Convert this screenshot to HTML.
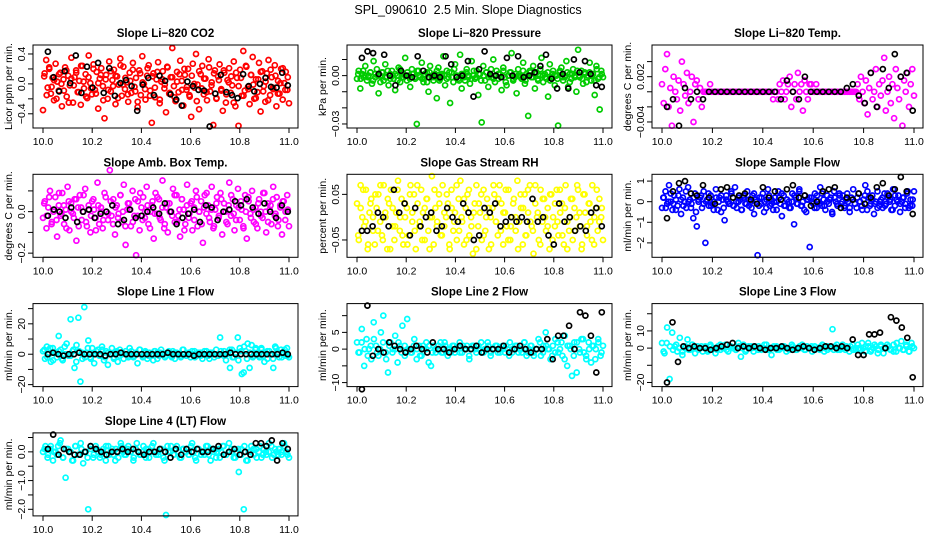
<!DOCTYPE html>
<html><head><meta charset="utf-8"><style>
html,body{margin:0;padding:0;background:#fff;}
svg{display:block;font-family:"Liberation Sans",sans-serif;}
</style></head><body>
<svg id="chart" width="936" height="540" viewBox="0 0 936 540" xmlns="http://www.w3.org/2000/svg">
<rect width="936" height="540" fill="#fff"/>
<text x="468" y="14" text-anchor="middle" font-size="12.5" xml:space="preserve">SPL_090610  2.5 Min. Slope Diagnostics</text>
</svg>
<script>
// Data (values in scaled units; see each panel's unit)
const xTicks = [10.0, 10.2, 10.4, 10.6, 10.8, 11.0];
const co2Vals = [-35,14,32,-5,20,-13,8,-22,27,3,-9,15,-30,6,22,-17,11,-2,35,-25,9,18,-11,4,-28,24,-6,13,-19,38,1,-14,26,-8,16,-33,7,21,-3,-46,12,-20,30,-10,5,19,-27,10,-1,34,-16,23,-7,2,-24,15,-12,28,-4,8,-31,18,-15,37,0,-21,11,25,-9,-52,14,-18,6,29,-26,3,17,-6,-38,22,-13,9,48,-3,-23,16,-11,31,4,-29,12,-8,20,-17,-44,27,-5,40,-1,-34,13,24,-14,7,-22,33,-10,2,-55,18,-19,10,26,-7,-36,15,-25,5,21,-12,-2,30,-30,8,-56,19,-16,44,-9,23,-4,-27,12,36,-20,6,-11,28,-37,17,-3,-24,14,32,-15,9,-7,25,-30,4,-13,20,-21,1,16,-8,-26];
const co2Vals2 = [10,-15,22,-4,5,-20,13,0,-9,18,-25,7,-2,15,-11,24,3,-17,9,-6,20,-13,1,12,-22,6,-8,17,-3,11,-19,25,-1,8,-14,4,19,-10,-24,14,2,-7,21,-16,10,-5,16,-21,6,-1,23,-12,9,-18,3,13,-8,20,-4,-15,11,0,-23,17,-6,7,-11,22,-2,14,-20,5,-9,18,-14,2,10,-25,15,-3,8,-16,24,-7,12,-1,-19,6,16,-10,3,-22,19,-5,11,-13,1,21,-8,9];
const co2Black = [43,9,-10,17,1,38,-12,23,-5,28,-12,21,-16,1,5,-3,-36,-1,8,-15,11,4,-14,-21,-29,3,-3,-8,-9,-57,-13,12,-11,-15,-19,13,-3,-10,0,8,-4,-5,15,-2];
const presVals = [-2,3,-8,1,-1,6,-3,0,2,-5,9,-1,4,-11,0,2,-3,7,-1,-6,1,3,-2,-9,0,5,-4,2,-1,11,-3,0,-7,4,1,-2,-30,3,-1,8,-4,0,2,-10,6,-1,-3,1,-14,5,-2,0,12,-6,3,-1,-17,2,-4,7,0,-2,13,-8,1,-3,4,-1,-5,9,0,-2,3,-12,1,-29,6,-3,2,-7,0,-1,10,-4,3,-2,1,-9,5,-1,-6,0,2,14,-3,-1,-11,4,0,-2,8,-5,1,-25,3,-1,6,-8,2,-3,0,11,-4,1,-2,-13,7,-1,3,-6,0,-31,2,5,-3,-1,9,-7,1,-2,4,0,-10,16,-1,3,-5,2,-4,0,8,-3,1,-12,6,-2,-21,3,-1];
const presVals2 = [1,-2,3,0,-1,2,-3,1,0,-4,2,-1,3,-2,0,1,-3,4,-1,0,2,-2,1,-1,3,0,-2,1,-4,2,0,-1,3,-3,1,0,-2,2,-1,4,0,-3,1,-1,2,0,-2,3,-1,1,-3,0,2,-1,4,-2,0,1,-1,3,-4,0,2,-2,1,0,-1,3,-3,0,2,-1,1,-2,4,0,-1,2,-3,1,0,-2,3,-1,0,2,-4,1,-1,3,0,-2,1,-1,2,0,-3,4,-1,1];
const presBlack = [11,15,14,1,13,0,-6,3,0,-1,12,3,-1,0,-1,12,7,-1,0,9,-13,4,15,1,0,-1,11,0,12,-1,0,2,6,13,-2,-8,1,-8,10,2,9,1,-6,-7];
const tempVals = [2,-3,6,10,-4,1,-9,4,0,-2,3,-5,8,2,-1,5,-3,0,4,-8,2,3,-2,1,-4,0,0,0,0,2,0,0,0,0,0,0,0,0,0,0,0,0,0,0,0,0,0,0,0,0,0,0,0,0,0,0,0,0,0,0,0,0,0,0,0,0,0,-2,0,0,-2,2,0,3,-2,0,2,4,-4,0,2,-2,5,0,2,-5,3,0,-2,2,2,0,0,2,0,0,0,0,0,0,0,0,0,0,0,0,0,0,0,0,0,0,0,0,0,0,0,0,2,-2,4,0,-3,3,-6,1,5,-2,0,6,-4,2,-1,3,9,-5,0,4,-3,2,-7,6,1,-2,4,-9,3,0,5,-4,2,6,-1];
const tempVals2 = [];
const tempBlack = [-4,-2,-9,1,-2,0,-2,0,0,0,0,0,0,0,0,0,0,0,0,-2,3,0,-2,4,0,0,0,0,0,0,1,2,-1,-3,5,-4,6,1,10,4,5,-5];
const ambVals = [-3,5,-8,2,10,-5,0,7,-12,3,-2,9,-6,1,12,-9,4,-1,6,-14,2,8,-4,0,11,-7,3,-10,5,1,-3,14,-6,2,-8,9,0,-4,20,-2,6,-11,3,-1,8,-5,13,-16,1,4,-7,10,-2,-21,5,-9,2,7,-3,12,-6,0,3,-13,9,-1,6,-4,15,-8,2,-10,4,0,11,-5,8,-2,-12,6,1,-6,13,-3,4,-9,2,10,-7,0,5,-15,8,-1,3,-5,12,-8,1,7,-3,9,-11,4,0,-6,14,-2,6,-9,3,11,-4,1,-7,8,-13,5,-1,10,-5,2,-8,6,0,-3,9,-10,4,1,-6,12,-2,7,-4,3,-11,5,0,8,-7];
const ambVals2 = [4,-2,7,-6,1,-4,9,-1,3,-8,5,0,-3,6,-7,2,8,-5,1,-2,6,-9,3,0,-4,7,-1,5,-6,2,-3,8,0,-7,4,1,-5,6,-2,9,-4,0,3,-8,5,-1,7,-3,2,-6,4,0,-2,8,-5,1,6,-9,3,-1,5,-4,7,0,-6,2,9,-3,1,-7,4,-2,6,0,-5,3,8,-1,-4,2,5,-8,0,7,-3,1,-6,4,-2,9,0,-5,3,6,-1,-7,2,5,-4,1];
const ambBlack = [-2,1,0,-3,2,-5,0,1,-3,-1,0,3,-6,-4,1,-3,-2,0,2,-1,4,0,-6,-3,-1,1,-5,3,2,-4,0,1,5,3,6,2,-1,4,0,-3,3,0];
const rhVals = [3,-5,7,0,-2,6,-7,1,4,-3,-6,2,5,-1,-4,7,0,-7,3,6,-2,-5,1,8,-3,4,-6,0,2,-4,7,-1,5,-7,3,-2,6,1,-5,4,-3,0,9,-6,2,-1,5,-4,7,-2,0,3,-7,6,-3,1,-5,4,8,-1,-6,2,5,-4,0,-8,3,7,-2,1,-5,6,-3,4,-7,0,2,5,-1,-4,7,3,-6,1,-2,6,-5,0,4,-3,8,-1,2,-6,5,-4,1,7,-2,-8,3,0,-5,6,-1,4,-3,2,-7,5,0,-2,6,-4,1,3,-6,7,-1,-3,4,-5,2,0,6,-2,-7,5,1,-4,3,-1,7,-6,2,-3,4,0,-5];
const rhVals2 = [-4,2,6,-1,-6,3,0,5,-3,7,-5,1,4,-7,2,-2,6,0,-4,3,-6,5,1,-3,7,-1,-5,2,4,-7,0,6,-2,3,-4,1,5,-6,2,-1,7,-3,0,4,-5,6,-2,1,-7,3,5,-4,0,2,-6,7,-1,4,-3,1,6,-5,-2,3,0,-7,5,2,-4,6,-1,-3,7,1,-6,4,0,-2,5,-5,3,-1,6,-4,2,-7,0,4,-3,7,1,-6,5,-2,3,-5,0,6,-1,2];
const rhBlack = [-3,-3,-2,1,0,-2,6,1,3,-4,2,-2,0,1,-3,-2,2,0,-1,3,1,-5,-4,2,1,3,-2,-1,0,-1,0,-1,4,-1,0,-4,-6,3,-1,0,-3,-2,-3,1,2,-2];
const flowVals = [-3,2,5,-1,8,0,-4,3,1,-2,6,-6,2,0,-3,7,1,-1,-8,4,-12,0,2,-3,5,-20,1,-2,3,-1,0,6,-4,2,-5,1,-9,3,0,-1,4,-2,7,-3,0,1,-4,2,-1,5,-2,0,3,-6,1,-26,2,-1,4,0,-3,6,-2,1,-4,2,0,5,-1,-7,3,-2,1,0,-3,4,-11,2,-1,6,-2,0,3,-5,1,-22,2,-1,4,-3,0,7,-2,1,-4,3,-1,2,-6,5,0,-2,4,-1,3,-3,1,0,-5,2,6,-1,-3,4,0,-2,1,8,-4,2,-1,3,-6,0,5,-2,1,-3,4,-1,2,0,-4,6,-2,1,3,-5,0,2,-1,4,-3,1,-2,5];
const flowVals2 = [2,-3,0,4,-1,-4,3,1,-2,5,0,-3,2,-5,1,3,-1,0,4,-2,-4,2,0,3,-3,1,-1,5,-2,0,2,-4,3,-1,1,-3,4,0,-2,2,-5,1,3,-1,0,-4,2,4,-2,1,-3,0,3,-1,5,-2,-4,1,2,0,-3,3,-1,4,-2,0,1,-5,2,-1,3,0,-2,4,-3,1,-1,2,0,-4,3,5,-2,1,-1,-3,0,2,-2,4,1,-4,3,0,-1,2,-3,5,-2,1];
const flowBlack = [-8,5,9,10,4,3,8,2,-1,6,7,2,3,4,1,-1,7,2,5,1,6,8,2,3,-2,0,5,6,7,-3,2,1,4,-1,2,7,9,3,6,12,5,-6];
const line1Vals = [2,-3,5,0,-5,4,1,-2,12,3,-4,0,7,-1,23,2,-9,6,24,-18,-3,31,1,9,-2,4,-6,0,3,-1,5,-4,2,-7,0,4,-2,1,-5,3,0,-3,2,-1,4,0,-2,1,-6,3,0,-1,2,-3,1,0,-4,2,1,-1,3,0,-2,1,0,-1,2,-3,1,0,-2,3,0,-1,1,-2,0,2,-1,0,1,-3,2,0,-1,1,0,-2,3,-1,11,0,2,-4,1,-9,3,-2,0,11,4,-13,-12,2,7,-9,6,-1,3,0,-2,4,-1,1,-3,2,0,-9,5,1,-2,3,0,-1,4,-2];
const line1Vals2 = [3,-2,4,-4,1,2,-3,5,0,-1,3,-5,2,1,-2,4,-3,0,2,-1,3,-2,1,0,-3,2,-1,1,0,-2,2,-1,0,3,-2,1,-1,0,2,-3,1,0,-1,2,-2,1,0,-1,3,-1,0,2,-2,1,-1,0,2,-3,1,0,-1,2,-1,0,3,-2,1,-4,2,5,-3,1,-2,4,-1,3,-5,2,0,-3,4,1,-2,3,-1];
const line1Black = [0,1,0,-1,0,0,1,0,0,0,0,-1,0,0,1,0,0,0,0,0,0,0,0,1,0,0,0,0,-1,0,0,0,0,0,0,1,0,0,0,0,0,0,0,0,0,1,0];
const line2Vals = [2,-1,6,-5,3,0,-3,8,1,-2,5,10,-1,-7,2,0,4,-4,1,7,-2,9,0,-1,3,-3,1,-2,0,2,-4,-5,1,-1,0,2,-1,1,-2,0,1,-1,0,2,-1,0,1,-3,0,1,-1,0,2,-1,0,1,-2,0,1,-1,0,1,-1,0,2,-1,0,1,0,-1,2,-2,0,1,-1,0,3,-2,1,5,0,-3,1,-1,2,0,-2,4,-5,1,-8,2,-7,0,3,-1,-3,2,-4,1,0,3,-2,1];
const line2Vals2 = [-1,2,0,-2,1,3,-1,0,2,-3,1,-1,0,2,-1,1,0,-1,1,0,-2,1,0,1,-1,0,1,-1,2,0,-1,1,0,-1,1,0,-2,1,0,1,-1,0,2,-1,0,1,-1,0,1,-2,0,1,-1,0,2,-1,1,-2,0,2,-1,1,0,-2,3,-1,2,-3,1,0,-2,2,-1,3,-2,0,1,-3,2,-1];
const line2Black = [-12,13,-2,0,-1,2,1,0,-1,0,1,0,-1,2,0,0,-1,0,1,0,0,1,-1,0,0,0,1,-1,0,1,0,-1,0,0,3,-3,4,4,7,0,11,10,4,-7,11];
const line3Vals = [3,-3,12,-18,9,1,-2,6,-4,0,5,-1,2,-3,1,0,-2,1,-1,2,0,-3,1,-1,0,2,-2,1,0,-1,3,-5,2,-1,0,1,-2,0,1,-1,0,2,-1,-4,0,1,-1,0,1,0,-1,2,0,-1,1,0,-1,1,0,-2,1,0,-1,2,0,-1,0,11,1,-1,0,2,-1,0,1,-1,0,2,-1,0,1,3,-2,0,1,-1,2,-3,0,1,-1,2,-2,0,4,-1,1,-2,3,0];
const line3Vals2 = [-2,3,1,-1,2,0,-2,1,-1,2,0,-1,1,0,-2,1,0,-1,2,0,-1,1,0,-1,1,0,-2,1,0,1,-1,0,2,-1,0,1,-1,0,1,-2,0,1,-1,0,2,-1,0,1,-1,0,1,-2,1,0,-1,2,-1,0,1,-2,2,-1,0,3,-2,1,-1,2,-3,1,0,2,-1,-2,3,0,-1,2,-2,1];
const line3Black = [-20,15,-8,1,0,1,0,0,-1,0,1,2,3,0,1,0,1,0,-1,0,0,1,0,-1,0,1,0,-1,0,1,1,0,1,0,5,-4,-4,8,8,9,0,18,16,12,6,-17];
const line4Vals = [0,2,-1,1,-3,0,2,4,-2,-9,1,0,-3,2,-1,3,-4,0,-20,1,-2,2,0,-1,1,-3,2,0,-1,1,-2,3,0,-1,2,0,-3,1,0,-1,2,-2,1,0,3,-1,0,1,-2,-22,0,2,-1,1,0,-2,1,0,-1,2,0,-3,1,-1,0,2,-1,1,0,-2,1,0,2,-1,0,1,-2,0,-7,1,-20,-3,0,2,-1,1,0,-2,1,-1,0,2,-1,0,1,-1,3,0,-2];
const line4Vals2 = [1,-2,2,0,-1,3,-2,1,0,-3,2,-1,1,0,-2,2,-1,1,-2,0,2,-1,1,-3,0,2,-1,1,0,-2,3,-1,0,1,-2,2,0,-1,1,-3,2,0,-1,2,-2,1,0,-1,3,-2,1,0,-1,2,-3,1,0,-2,2,-1,3,0,-2,1,-1,2,-3,0,1,-2,2,-1,0,3,-2,1,-1,0,2,-1];
const line4Black = [1,6,-1,1,0,-1,-1,0,2,1,0,-1,0,0,1,0,1,0,-1,0,0,1,0,-2,1,-1,1,0,1,0,0,1,2,-1,0,1,-1,0,-1,3,3,2,4,-3,3,1];

const panels = [
 {title:"Slope Li\u2212820 CO2", ylab:"Licor ppm per min.", vals:co2Vals, vals2:co2Vals2, blk:co2Black, unit:0.01, color:"#ff0000", ymin:-0.59, ymax:0.52, ticks:[-0.4,-0.2,0,0.2,0.4], labels:[[-0.4,"\u22120.4"],[0,"0.0"],[0.4,"0.4"]]},
 {title:"Slope Li\u2212820 Pressure", ylab:"kPa per min.", vals:presVals, vals2:presVals2, blk:presBlack, unit:0.001, color:"#00cc00", ymin:-0.0325, ymax:0.019, ticks:[-0.03,-0.02,-0.01,0,0.01], labels:[[-0.03,"\u22120.03"],[0,"0.00"]]},
 {title:"Slope Li\u2212820 Temp.", ylab:"degrees C per min.", vals:tempVals, vals2:tempVals2, blk:tempBlack, unit:0.0005, color:"#ff00ff", ymin:-0.0048, ymax:0.0062, ticks:[-0.004,-0.002,0,0.002,0.004], labels:[[-0.004,"\u22120.004"],[0.002,"0.002"]]},
 {title:"Slope Amb. Box Temp.", ylab:"degrees C per min.", vals:ambVals, vals2:ambVals2, blk:ambBlack, unit:0.01, color:"#ff00ff", ymin:-0.22, ymax:0.18, ticks:[-0.2,-0.1,0,0.1], labels:[[-0.2,"\u22120.2"],[0,"0.0"]]},
 {title:"Slope Gas Stream RH", ylab:"percent per min.", vals:rhVals, vals2:rhVals2, blk:rhBlack, unit:0.01, color:"#ffff00", ymin:-0.088, ymax:0.094, ticks:[-0.05,0.05], labels:[[-0.05,"\u22120.05"],[0.05,"0.05"]]},
 {title:"Slope Sample Flow", ylab:"ml/min per min.", vals:flowVals, vals2:flowVals2, blk:flowBlack, unit:0.1, color:"#0000ff", ymin:-2.7, ymax:1.33, ticks:[-2,-1,0,1], labels:[[-2,"\u22122"],[-1,"\u22121"],[0,"0"],[1,"1"]]},
 {title:"Slope Line 1 Flow", ylab:"ml/min per min.", vals:line1Vals, vals2:line1Vals2, blk:line1Black, unit:1, color:"#00ffff", ymin:-21.3, ymax:33.3, ticks:[-20,-10,0,10,20,30], labels:[[-20,"\u221220"],[0,"0"],[20,"20"]]},
 {title:"Slope Line 2 Flow", ylab:"ml/min per min.", vals:line2Vals, vals2:line2Vals2, blk:line2Black, unit:1, color:"#00ffff", ymin:-11.2, ymax:13.6, ticks:[-10,-5,0,5,10], labels:[[-10,"\u221210"],[0,"0"],[5,"5"]]},
 {title:"Slope Line 3 Flow", ylab:"ml/min per min.", vals:line3Vals, vals2:line3Vals2, blk:line3Black, unit:1, color:"#00ffff", ymin:-22.4, ymax:25.9, ticks:[-20,-10,0,10,20], labels:[[-20,"\u221220"],[0,"0"],[10,"10"]]},
 {title:"Slope Line 4 (LT) Flow", ylab:"ml/min per min.", vals:line4Vals, vals2:line4Vals2, blk:line4Black, unit:0.1, color:"#00ffff", ymin:-2.23, ymax:0.66, ticks:[-2,-1.5,-1,-0.5,0,0.5], labels:[[-2,"\u22122.0"],[-1,"\u22121.0"],[0,"0.0"]]}
];

const svg = document.getElementById('chart');
const NS = "http://www.w3.org/2000/svg";
const colL = [33,347,652], colR = [298,612,923];
function mk(tag, attrs, parent){
  const e = document.createElementNS(NS, tag);
  for (const k in attrs) e.setAttribute(k, attrs[k]);
  parent.appendChild(e);
  return e;
}
panels.forEach((p, idx) => {
  const c = idx % 3, r = Math.floor(idx / 3);
  const L = colL[c], R = colR[c], T = 45 + 129.3 * r, B = T + 83;
  const x0 = L + 10, x1 = R - 9;
  const xs = v => x0 + (v - 10) * (x1 - x0);
  const ys = v => B - (v - p.ymin) / (p.ymax - p.ymin) * (B - T);
  const g = mk('g', {}, svg);
  
  
  const t = mk('text', {x:(L+R)/2, y:T-8, 'text-anchor':'middle', 'font-size':'11.5', 'font-weight':'bold'}, g);
  t.textContent = p.title;
  
  
  const pts = mk('g', {fill:'none', 'stroke-width':'1.7'}, g);
  
  
  const n = p.vals.length;
  p.vals.forEach((v, i) => {
    const ci = mk('circle', {cx:xs(10 + i / (n - 1)).toFixed(1), cy:ys(v * p.unit).toFixed(1), r:'2.5', stroke:p.color}, pts);
    
    
  });
  const n2 = p.vals2.length;
  p.vals2.forEach((v, i) => {
    const ci = mk('circle', {cx:xs(10 + (i + 0.5) / n2).toFixed(1), cy:ys(v * p.unit).toFixed(1), r:'2.5', stroke:p.color}, pts);
    
    
  });
  const nb = p.blk.length;
  p.blk.forEach((v, i) => {
    const ci = mk('circle', {cx:xs(10.02 + 0.975 * i / (nb - 1)).toFixed(1), cy:ys(v * p.unit).toFixed(1), r:'2.5', stroke:'#000'}, pts);
    
    
  });
  const box = mk('rect', {x:L, y:T, width:R-L, height:B-T, fill:'none', stroke:'#000', 'stroke-width':'1'}, g);
  
  
  const xa = mk('g', {stroke:'#000', 'stroke-width':'1'}, g);
  
  
  mk('line', {x1:xs(10), x2:xs(11), y1:B, y2:B}, xa);
  xTicks.forEach(v => {
    mk('line', {x1:xs(v), x2:xs(v), y1:B, y2:B+5}, xa);
    const tl = mk('text', {x:xs(v), y:B+17, 'text-anchor':'middle', 'font-size':'10.5', stroke:'none', fill:'#000'}, xa);
    tl.textContent = v.toFixed(1);
    
    
  });
  const ya = mk('g', {stroke:'#000', 'stroke-width':'1'}, g);
  
  
  mk('line', {x1:L, x2:L, y1:ys(p.ticks[0]), y2:ys(p.ticks[p.ticks.length-1])}, ya);
  p.ticks.forEach(v => mk('line', {x1:L-5, x2:L, y1:ys(v), y2:ys(v)}, ya));
  p.labels.forEach(([v, s]) => {
    const tl = mk('text', {x:0, y:0, transform:`translate(${L-8},${ys(v)}) rotate(-90)`, 'text-anchor':'middle', 'font-size':'10.5', stroke:'none', fill:'#000'}, ya);
    tl.textContent = s;
    
    
  });
  const yt = mk('text', {x:0, y:0, transform:`translate(${L-21},${(T+B)/2}) rotate(-90)`, 'text-anchor':'middle', 'font-size':'10.5'}, g);
  yt.textContent = p.ylab;
  
  
});
</script>
</body></html>
